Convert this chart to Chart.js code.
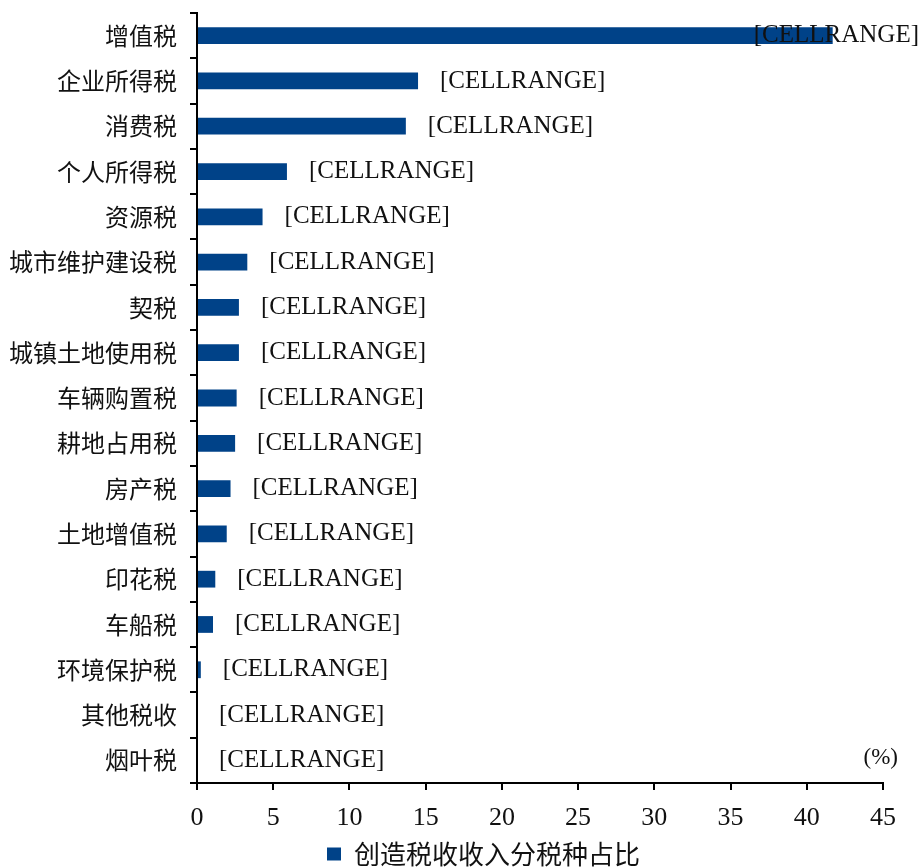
<!DOCTYPE html>
<html>
<head>
<meta charset="utf-8">
<script src="https://cdn.jsdelivr.net/npm/chart.js@4/dist/chart.umd.min.js"></script>
<style>
    body { margin: 0; background: #ffffff; }
    #wrap { width: 923px; height: 867px; }
</style>
</head>
<body>
<div id="wrap"><canvas id="chart" width="923" height="867"></canvas></div>
<script>
const CATEGORIES = ["增值税", "企业所得税", "消费税", "个人所得税", "资源税", "城市维护建设税", "契税",
    "城镇土地使用税", "车辆购置税", "耕地占用税", "房产税", "土地增值税", "印花税", "车船税",
    "环境保护税", "其他税收", "烟叶税"];
const SHARE_VALUES = [41.7, 14.5, 13.7, 5.9, 4.3, 3.3, 2.75, 2.75, 2.6, 2.5, 2.2, 1.95, 1.2, 1.05, 0.25, 0, 0];
const VALUE_LABELS = ["[CELLRANGE]", "[CELLRANGE]", "[CELLRANGE]", "[CELLRANGE]", "[CELLRANGE]",
    "[CELLRANGE]", "[CELLRANGE]", "[CELLRANGE]", "[CELLRANGE]", "[CELLRANGE]", "[CELLRANGE]",
    "[CELLRANGE]", "[CELLRANGE]", "[CELLRANGE]", "[CELLRANGE]", "[CELLRANGE]", "[CELLRANGE]"];
const X_MIN = 0, X_MAX = 45, X_STEP = 5;
const SERIES_NAME = "创造税收收入分税种占比";
const UNIT_LABEL = "(%)";

const BAR_COLOR = "#004288",
    AXIS_COLOR = "#000000",
    TEXT_COLOR = "#111111",
    SERIF = "'Liberation Serif', 'Times New Roman', serif",
    CJK = "'Noto Sans CJK SC', 'Noto Sans', sans-serif",
    LEGEND_SHIFT = 42;

// draws the value labels next to each bar and the unit text
const valueLabels = {
    id: "valueLabels",
    afterDatasetsDraw(chart) {
        const ctx = chart.ctx;
        const meta = chart.getDatasetMeta(0);
        ctx.save();
        ctx.font = "25px " + SERIF;
        ctx.fillStyle = TEXT_COLOR;
        ctx.textBaseline = "middle";
        ctx.textAlign = "left";
        meta.data.forEach((bar, i) => {
            const text = VALUE_LABELS[i];
            const w = ctx.measureText(text).width;
            let x = bar.x + 22;
            if (x + w > chart.width - 4) {
                x = chart.width - 4 - w;
            }
            ctx.fillText(text, x, bar.y);
        });
        ctx.font = "23px " + SERIF;
        ctx.textAlign = "right";
        ctx.fillText(UNIT_LABEL, chart.chartArea.right + 15, chart.chartArea.bottom - 25);
        ctx.restore();
    },
};

// the legend sits a bit right of the canvas centre in the original
const legendOffset = {
    id: "legendOffset",
    afterLayout(chart) {
        chart.legend.left += LEGEND_SHIFT;
        chart.legend.right += LEGEND_SHIFT;
    },
};

new Chart(document.getElementById("chart").getContext("2d"), {
    type: "bar",
    data: {
        labels: CATEGORIES,
        datasets: [{
            label: SERIES_NAME,
            data: SHARE_VALUES,
            backgroundColor: BAR_COLOR,
            borderWidth: 0,
            barPercentage: 0.37,
            categoryPercentage: 1,
        }],
    },
    options: {
        indexAxis: "y",
        responsive: false,
        animation: false,
        layout: {
            padding: { top: 13, right: 40, left: 0, bottom: -10 },
        },
        plugins: {
            legend: {
                position: "bottom",
                labels: {
                    color: TEXT_COLOR,
                    font: { family: CJK, size: 26 },
                    boxWidth: 14,
                    boxHeight: 13,
                    padding: 6,
                },
            },
            tooltip: { enabled: false },
        },
        scales: {
            x: {
                min: X_MIN,
                max: X_MAX,
                border: { color: AXIS_COLOR, width: 2 },
                grid: {
                    drawOnChartArea: false,
                    drawTicks: true,
                    tickLength: 7,
                    color: AXIS_COLOR,
                    lineWidth: 2,
                },
                ticks: {
                    stepSize: X_STEP,
                    color: TEXT_COLOR,
                    font: { family: SERIF, size: 26 },
                    padding: 13,
                    maxRotation: 0,
                },
                afterFit(scale) {
                    scale.height = 52;
                },
            },
            y: {
                border: { color: AXIS_COLOR, width: 2 },
                grid: {
                    drawOnChartArea: false,
                    drawTicks: true,
                    tickLength: 7,
                    color: AXIS_COLOR,
                    lineWidth: 2,
                },
                ticks: {
                    color: TEXT_COLOR,
                    font: { family: CJK, size: 24 },
                    padding: 13,
                    autoSkip: false,
                },
                afterFit(scale) {
                    scale.width = 197;
                    scale.paddingTop = 0;
                    scale.paddingBottom = 0;
                },
            },
        },
    },
    plugins: [valueLabels, legendOffset],
});
</script>
</body>
</html>
